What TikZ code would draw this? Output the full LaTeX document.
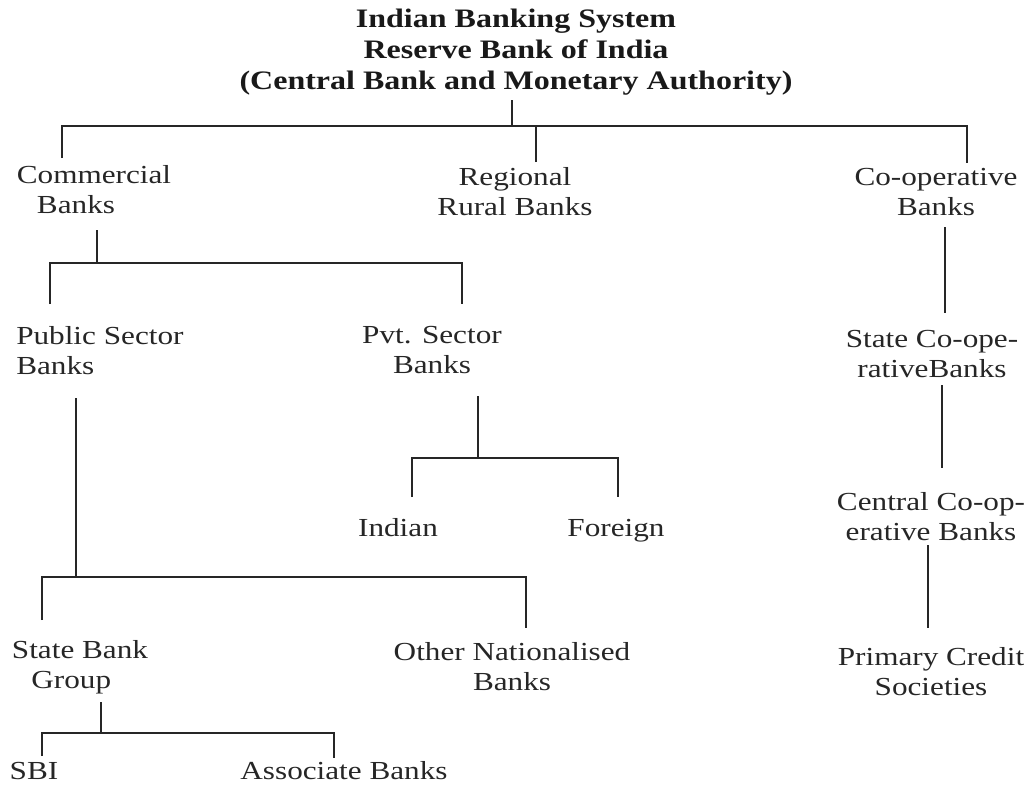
\documentclass[tikz,border=0pt]{standalone}
\usepackage{fontspec}
\setmainfont{Liberation Serif}[FakeStretch=1.2]
\begin{document}
\begin{tikzpicture}[x=0.75pt,y=-0.75pt,
  lbl/.style={inner sep=0pt, anchor=north, align=center,
    font=\fontsize{19.5}{22.5}\selectfont, text=black!85,
    execute at begin node=\rule{0pt}{15pt}},
  ttl/.style={lbl, font=\fontsize{20}{23.25}\selectfont\bfseries, text=black!90},
  conn/.style={draw=black!85, line width=1.5pt}]
\useasboundingbox (0,0) rectangle (1029,793);

% labels
\node[ttl] (rbi) at (516,9) {Indian Banking System\\Reserve Bank of India\\(Central Bank and Monetary Authority)};
\node[lbl] (cb)  at (94,165)  {Commercial\\Banks\hspace*{27pt}};
\node[lbl] (rrb) at (515,167) {Regional\\Rural Banks};
\node[lbl] (cob) at (936,168) {Co-operative\\Banks};
\node[lbl, align=left, anchor=north west] (psb) at (16,326) {Public Sector\\Banks};
\node[lbl] (pvt) at (432,326) {Pvt. Sector\\Banks};
\node[lbl] (ind) at (398,516) {Indian};
\node[lbl] (for) at (616,516) {Foreign};
\node[lbl] (sbg) at (80,640)  {State Bank\\Group\hspace*{13pt}};
\node[lbl] (onb) at (512,642) {Other Nationalised\\Banks};
\node[lbl] (sbi) at (34,759)  {SBI};
\node[lbl] (asb) at (344,759) {Associate Banks};
\node[lbl] (scb) at (932,330) {State Co-ope-\\rativeBanks};
\node[lbl] (ccb) at (931,492) {Central Co-op-\\erative Banks};
\node[lbl] (pcs) at (931,647) {Primary Credit\\Societies};

% connector ends
\coordinate (rbiS) at (512,100);
\coordinate (b1)   at (512,126);
\coordinate (cbT)  at (62,158);
\coordinate (rrT)  at (536,162);
\coordinate (coT)  at (967,163);
\coordinate (cbS)  at (97,230);
\coordinate (b2)   at (97,263);
\coordinate (psT)  at (50,304);
\coordinate (pvT)  at (462,304);
\coordinate (psS)  at (76,398);
\coordinate (b3)   at (76,577);
\coordinate (sbT)  at (42,620);
\coordinate (onT)  at (526,628);
\coordinate (pvS)  at (478,396);
\coordinate (b4)   at (478,458);
\coordinate (inT)  at (412,497);
\coordinate (foT)  at (618,497);
\coordinate (sgS)  at (101,702);
\coordinate (b5)   at (101,733);
\coordinate (sbiT) at (42,756);
\coordinate (asT)  at (334,758);
\coordinate (coS)  at (945,227);
\coordinate (scT)  at (945,313);
\coordinate (scS)  at (942,385);
\coordinate (ccT)  at (942,468);
\coordinate (ccS)  at (928,545);
\coordinate (pcT)  at (928,628);

% connectors
\draw[conn] (rbiS) -- (b1);
\draw[conn] (cbT) -- (cbT |- b1) -- (coT |- b1) -- (coT);
\draw[conn] (rrT) -- (rrT |- b1);
\draw[conn] (cbS) -- (b2);
\draw[conn] (psT) -- (psT |- b2) -- (pvT |- b2) -- (pvT);
\draw[conn] (psS) -- (b3);
\draw[conn] (sbT) -- (sbT |- b3) -- (onT |- b3) -- (onT);
\draw[conn] (pvS) -- (b4);
\draw[conn] (inT) -- (inT |- b4) -- (foT |- b4) -- (foT);
\draw[conn] (sgS) -- (b5);
\draw[conn] (sbiT) -- (sbiT |- b5) -- (asT |- b5) -- (asT);
\draw[conn] (coS) -- (scT);
\draw[conn] (scS) -- (ccT);
\draw[conn] (ccS) -- (pcT);
\end{tikzpicture}
\end{document}
